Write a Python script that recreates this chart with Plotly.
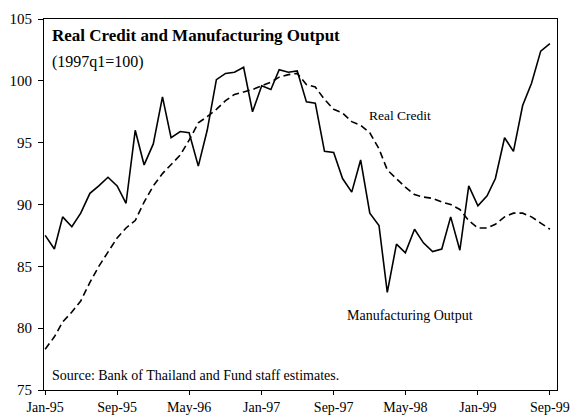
import plotly.graph_objects as go
import pandas as pd

months = pd.date_range("1995-01-01", "1999-09-01", freq="MS")

manufacturing_output = [
    87.5, 86.4, 89.0, 88.2, 89.3, 90.9, 91.5, 92.2, 91.5, 90.1,
    96.0, 93.2, 94.9, 98.7, 95.4, 95.9, 95.8, 93.1, 96.0, 100.1,
    100.6, 100.7, 101.1, 97.5, 99.6, 99.3, 100.9, 100.7, 100.8, 98.3,
    98.2, 94.3, 94.2, 92.1, 91.0, 93.6, 89.3, 88.3, 82.9, 86.8,
    86.1, 88.0, 86.9, 86.2, 86.4, 89.0, 86.3, 91.5, 89.9, 90.7,
    92.1, 95.4, 94.3, 98.0, 99.8, 102.4, 103.0,
]

real_credit = [
    78.3, 79.3, 80.5, 81.3, 82.2, 83.7, 85.0, 86.2, 87.3, 88.1,
    88.7, 90.2, 91.5, 92.5, 93.2, 94.0, 95.2, 96.6, 97.1, 97.7,
    98.4, 98.9, 99.1, 99.3, 99.6, 99.9, 100.3, 100.5, 100.6, 99.7,
    99.5, 98.5, 97.7, 97.4, 96.7, 96.4, 95.8, 94.5, 92.8, 92.1,
    91.4, 90.8, 90.6, 90.5, 90.2, 90.0, 89.6, 88.7, 88.1, 88.1,
    88.4, 89.0, 89.3, 89.3, 89.0, 88.5, 88.0,
]

tick_dates = ["1995-01-01", "1995-09-01", "1996-05-01", "1997-01-01",
              "1997-09-01", "1998-05-01", "1999-01-01", "1999-09-01"]
tick_labels = ["Jan-95", "Sep-95", "May-96", "Jan-97",
               "Sep-97", "May-98", "Jan-99", "Sep-99"]
y_ticks = [75, 80, 85, 90, 95, 100, 105]

font = "Liberation Serif, Times New Roman, serif"

fig = go.Figure()
fig.add_trace(go.Scatter(
    x=months, y=real_credit, mode="lines", name="Real Credit",
    line=dict(color="black", width=1.6, dash="7px,4px"),
))
fig.add_trace(go.Scatter(
    x=months, y=manufacturing_output, mode="lines", name="Manufacturing Output",
    line=dict(color="black", width=1.6),
))

fig.add_annotation(x=0.012, y=0.955, xref="paper", yref="paper",
                   text="<b>Real Credit and Manufacturing Output</b>",
                   showarrow=False, xanchor="left", yanchor="middle",
                   font=dict(family=font, size=17, color="black"))
fig.add_annotation(x=0.012, y=0.885, xref="paper", yref="paper",
                   text="(1997q1=100)",
                   showarrow=False, xanchor="left", yanchor="middle",
                   font=dict(family=font, size=16, color="black"))
fig.add_annotation(x="1998-04-12", y=97.2, text="Real Credit",
                   showarrow=False, xanchor="center", yanchor="middle",
                   font=dict(family=font, size=13.5, color="black"))
fig.add_annotation(x="1998-05-15", y=81.0, text="Manufacturing Output",
                   showarrow=False, xanchor="center", yanchor="middle",
                   font=dict(family=font, size=14, color="black"))
fig.add_annotation(x=0.012, y=0.04, xref="paper", yref="paper",
                   text="Source: Bank of Thailand and Fund staff estimates.",
                   showarrow=False, xanchor="left", yanchor="middle",
                   font=dict(family=font, size=14, color="black"))

fig.update_layout(
    width=574, height=416,
    margin=dict(l=44, r=17, t=19, b=26),
    paper_bgcolor="white", plot_bgcolor="white",
    showlegend=False,
    font=dict(family=font, size=14, color="black"),
)
fig.update_xaxes(
    range=["1994-12-28", "1999-09-25"],
    tickvals=tick_dates, ticktext=tick_labels,
    showgrid=False, zeroline=False, automargin=False,
    showline=True, linecolor="black", linewidth=1.2, mirror=True,
    ticks="outside", ticklen=4, tickcolor="black",
    tickfont=dict(family=font, size=14),
)
fig.update_yaxes(
    range=[75, 105], tickvals=y_ticks,
    showgrid=False, zeroline=False, automargin=False,
    showline=True, linecolor="black", linewidth=1.2, mirror=True,
    ticks="outside", ticklen=5, tickcolor="black",
    ticklabelstandoff=3,
    tickfont=dict(family=font, size=15),
)

fig.write_html("out.html", config={"displayModeBar": False},
               post_script="document.body.style.margin='0';")
